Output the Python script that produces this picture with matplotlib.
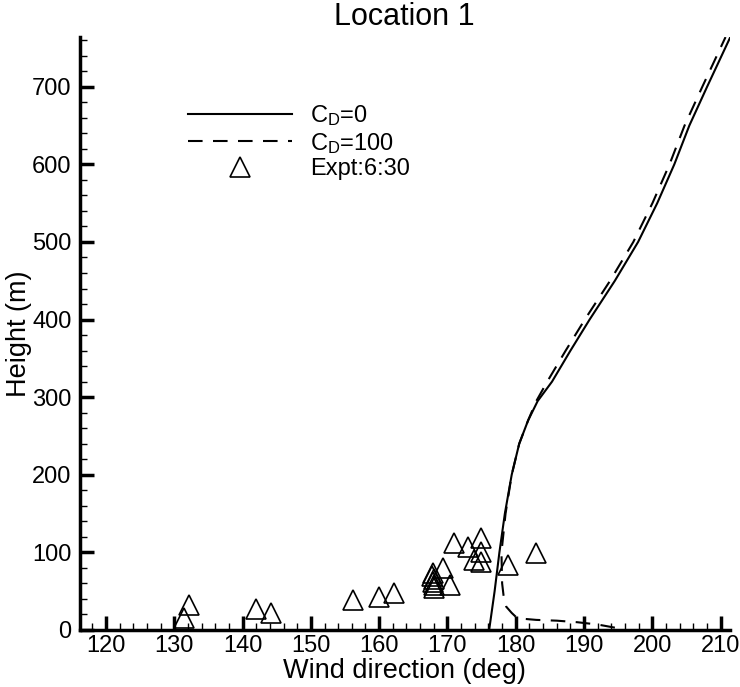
import matplotlib
matplotlib.use("Agg")
import matplotlib.pyplot as plt
from matplotlib.ticker import MultipleLocator

plt.rcParams["font.family"] = ["Liberation Sans", "DejaVu Sans"]
plt.rcParams["mathtext.fontset"] = "custom"
plt.rcParams["mathtext.rm"] = "Liberation Sans"
plt.rcParams["mathtext.it"] = "Liberation Sans"

# Simulated wind-direction profiles
cd0_dir = [176.1, 176.5, 176.9, 177.6, 178.4, 179.4, 180.5, 181.8, 183.2,
           185.3, 188.0, 190.8, 194.5, 197.9, 200.7, 203.2, 205.4, 208.0, 211.4]
cd0_height = [0, 25, 50, 100, 150, 200, 240, 270, 295,
              320, 360, 400, 450, 500, 550, 600, 650, 700, 764]

cd100_dir = [194.5, 192.0, 189.0, 186.0, 183.0, 181.0, 180.0, 179.4, 178.6,
             178.2, 178.0, 177.9, 178.5, 179.4, 180.5, 181.8, 183.0,
             184.6, 187.3, 190.1, 193.8, 197.2, 200.0, 202.5, 204.7, 207.3, 210.7]
cd100_height = [3, 7, 10, 12, 13, 14.5, 17, 22, 30,
                45, 60, 100, 150, 200, 240, 270, 295,
                320, 360, 400, 450, 500, 550, 600, 650, 700, 764]

# Observations at 6:30
obs_dir = [131.4, 132.1, 142.0, 144.1, 156.1, 160.0, 162.1, 171.0, 173.0,
           174.9, 174.9, 173.9, 174.9, 183.0, 178.9, 169.3, 170.3, 168.1,
           167.9, 167.8, 168.0, 167.9, 168.1]
obs_height = [15, 32, 27, 22, 38, 42, 48, 112, 107,
              118, 101, 90, 88, 99, 84, 80, 58, 54,
              74, 70, 66, 62, 58]

fig = plt.figure(figsize=(7.40, 6.87), dpi=100)
ax = fig.add_axes([0.108, 0.083, 0.878, 0.863])

ax.plot(cd0_dir, cd0_height, color="black", lw=1.5, label=r"C$_\mathregular{D}$=0")
ax.plot(cd100_dir, cd100_height, color="black", lw=1.5, dashes=(7, 5),
        label=r"C$_\mathregular{D}$=100")
ax.plot(obs_dir, obs_height, linestyle="none", marker="^", ms=15,
        mfc="none", mec="black", mew=1.2, label="Expt:6:30")

ax.set_xlim(116.2, 211.3)
ax.set_ylim(0, 764)

ax.xaxis.set_major_locator(MultipleLocator(10))
ax.xaxis.set_minor_locator(MultipleLocator(2))
ax.yaxis.set_major_locator(MultipleLocator(100))
ax.yaxis.set_minor_locator(MultipleLocator(20))

ax.tick_params(which="major", direction="in", length=10, width=2.5,
               labelsize=17, pad=6)
ax.tick_params(axis="x", which="major", pad=3.5)
ax.tick_params(which="minor", direction="in", length=5, width=1)

for side in ("top", "right"):
    ax.spines[side].set_visible(False)
for side in ("left", "bottom"):
    ax.spines[side].set_linewidth(2.5)

ax.set_xlabel("Wind direction (deg)", fontsize=19.5, labelpad=0.5)
ax.set_ylabel("Height (m)", fontsize=19.5, labelpad=0)
ax.set_title("Location 1", fontsize=22, pad=9)

ax.legend(loc="upper left", bbox_to_anchor=(0.167, 0.889), frameon=False,
          fontsize=17, handlelength=4.4, handletextpad=0.75,
          labelspacing=0.12, borderpad=0, borderaxespad=0)

fig.savefig("out.png", dpi=100)
